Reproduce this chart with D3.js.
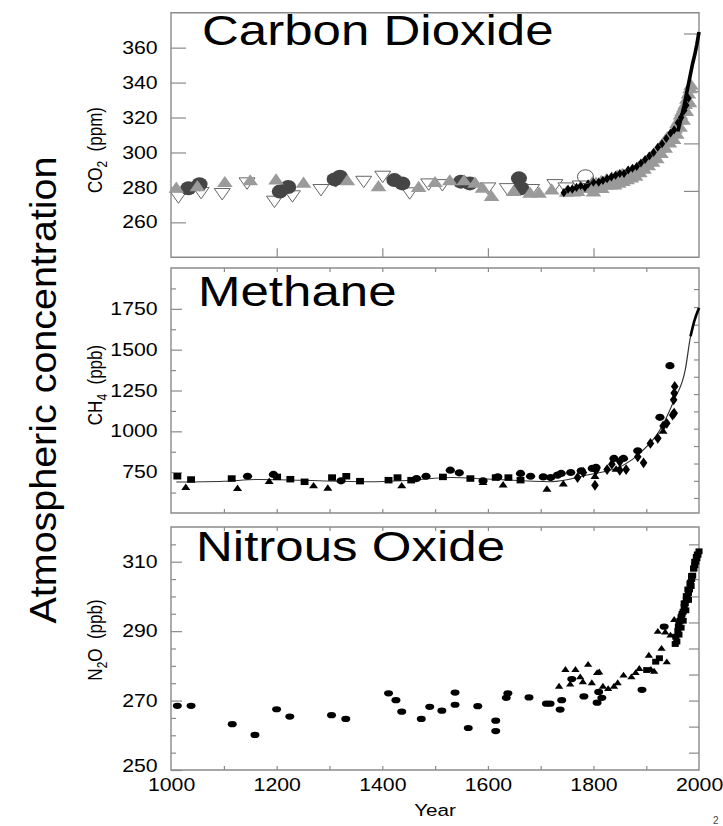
<!DOCTYPE html>
<html><head><meta charset="utf-8">
<script src="https://cdn.jsdelivr.net/npm/d3@7"></script>
<style>body{margin:0;background:#fff}svg{display:block}</style>
</head><body>
<svg id="c" width="723" height="826"></svg>
<script>
// ---------------- DATA ----------------
const yearLabelTicks = [1000, 1200, 1400, 1600, 1800, 2000];
const yearMinorTicks = [1100, 1200, 1300, 1400, 1500, 1600, 1700, 1800, 1900];
const yearMajorTicks = [1200, 1400, 1600, 1800];

const co2Ticks = [260, 280, 300, 320, 340, 360];
const co2RightTicks = [278, 305.2, 335.2, 368.1];
const ch4Ticks = [750, 1000, 1250, 1500, 1750];
const ch4MinorTicks = [625, 875, 1125, 1375, 1625, 1875];
const ch4RightTicks = [592, 697, 803, 910, 1016, 1122, 1228, 1334, 1440, 1547, 1653, 1761, 1871];
const n2oTicks = [250, 270, 290, 310];
const n2oMinorTicks = [255, 260, 265, 275, 280, 285, 295, 300, 305, 315];
const n2oRightTicks = [255, 262.5, 270, 277.5, 285, 292.5, 300, 305, 315];

// CO2 (ppm)
const co2DarkCircles = [[1033,279.5],[1054,281.8],[1206,277.6],[1222,280.2],[1310,284.6],[1320,286.1],
  [1423,284.2],[1438,282.3],[1549,283.3],[1566,282.3],[1659,285.2],[1663,279.5]];
const co2OpenCircles = [[1785,286.1]];
const co2OpenTriangles = [[1014,275.3],[1057,277.8],[1097,277.2],[1144,283.3],[1196,272.8],[1230,275.9],
  [1284,279.5],[1312,284.5],[1365,284.2],[1401,287.1],[1452,277.6],[1488,282.7],[1514,282.3],[1600,280.4],
  [1637,280.0],[1683,279.5],[1727,282.3],[1748,280.4],[1775,281.5]];
const co2GrayTriangles = [[1010,279.1],[1050,280.0],[1102,282.3],[1150,283.3],[1199,283.8],[1251,282.0],
  [1334,283.3],[1393,280.0],[1469,279.5],[1500,282.3],[1528,283.3],[1555,283.3],[1576,282.0],[1590,279.1],
  [1607,274.3],[1649,277.2],[1680,276.2],[1697,276.2],[1721,278.1],[1749,276.8],[1762,277.0],[1770,277.2],
  [1790,279],[1798,282.3],[1805,282],[1810,281],[1815,283],[1820,282],[1825,284],[1830,283],[1835,285],
  [1840,284],[1845,286],[1850,285],[1855,287],[1860,286],[1865,288],[1870,287],[1875,289],[1880,289],
  [1885,291],[1890,291],[1895,293],[1900,294],[1905,296],[1910,297],[1915,299],[1920,300],[1925,302],
  [1930,304],[1935,306],[1940,308],[1945,309],[1950,311],[1955,313],[1958,316],[1962,318],[1965,321],
  [1968,323],[1971,325],[1974,327],[1977,330],[1980,333],[1983,336],[1985,338],
  [1800,277],[1808,279],[1816,279],[1824,281],[1832,281],[1840,281],[1848,282],[1856,283],[1864,284],
  [1872,285],[1880,286],[1888,288],[1896,290],[1904,292],[1912,294],[1920,296],[1928,299],[1936,302],
  [1944,305],[1952,307],[1958,310],[1964,314],[1970,318],[1976,323],[1982,328]];
const co2BlackMarks = [[1744,277],[1752,279],[1760,279],[1768,280],[1776,281],[1784,280],[1790,282],
  [1800,283],[1810,283],[1818,284],[1826,285],[1834,286],[1842,287],[1850,288],[1858,288],[1866,290],
  [1874,291],[1882,292],[1890,294],[1898,296],[1906,298],[1914,300],[1922,303],[1930,305],[1938,308],
  [1946,311],[1953,313],[1960,317],[1966,320],[1972,324],[1976,327],[1980,331]];
const co2MaunaLoa = [[1960,312],[1964,317],[1968,322],[1972,327],[1976,333],[1980,339],[1984,345],
  [1988,351],[1992,356],[1996,362],[2000,369]];

// CH4 (ppb)
const ch4Squares = [[1012,725],[1038,705],[1115,711],[1201,721],[1226,707],[1253,691],[1305,717],
  [1332,725],[1358,695],[1412,701],[1429,717],[1455,701],[1515,721],[1567,711],[1615,717],[1639,717],[1662,701]];
const ch4Circles = [[1145,725],[1194,736],[1322,697],[1465,711],[1483,725],[1529,762],[1546,746],
  [1591,697],[1619,721],[1662,742],[1681,725],[1705,721],[1719,717],[1732,732],[1739,742],[1757,748],
  [1777,758],[1798,773],[1805,779],[1839,834],[1857,834],[1884,881],[1926,1086],[1945,1402]];
const ch4Triangles = [[1028,654],[1126,648],[1186,691],[1270,664],[1297,650],[1437,664],[1591,684],
  [1629,670],[1712,643],[1743,676],[1803,721],[1843,766],[1932,998]];
const ch4Diamonds = [[1770,717],[1781,748],[1805,762],[1803,670],[1826,766],[1835,799],[1850,814],
  [1862,766],[1850,762],[1884,844],[1895,807],[1908,926],[1922,957],[1932,1033],[1939,1049],[1950,1100],
  [1953,1111],[1952,1193],[1953,1234],[1954,1275]];
const ch4Curve = [[1010,690],[1100,695],[1167,705],[1250,700],[1374,692],[1450,700],[1532,717],
  [1600,708],[1719,692],[1788,732],[1857,793],[1891,875],[1926,1008],[1953,1193],[1974,1377],
  [1984,1582],[1991,1674],[2000,1756]];

// N2O (ppb)
const n2oCircles = [[1012,268.5],[1038,268.5],[1116,263.2],[1159,260.1],[1200,267.5],[1225,265.4],
  [1304,265.8],[1331,264.7],[1412,272.1],[1426,270.1],[1437,266.8],[1474,264.7],[1490,268.2],[1513,267.1],
  [1538,272.3],[1538,268.8],[1563,262.1],[1581,268.4],[1615,264.2],[1615,261.2],[1635,270.8],[1638,272.1],
  [1678,270.9],[1711,269.1],[1718,269.1],[1737,267.4],[1740,270.1],[1759,276.2],[1782,271.2],[1807,269.4],
  [1810,272.5],[1816,270.8],[1892,273.1],[1934,291.3]];
const n2oTriangles = [[1735,274],[1747,278.8],[1756,274.6],[1766,278.8],[1775,276.7],[1780,275.3],
  [1790,280.3],[1797,275],[1807,277.9],[1811,278.1],[1818,274],[1828,273.3],[1839,274],[1846,275],
  [1857,277.2],[1872,276.7],[1880,277.9],[1887,279.1],[1905,282.9],[1909,278.8],[1915,278.3],[1922,289.8],
  [1929,284.9],[1936,289.6],[1939,281],[1946,288.7],[1953,293.2]];
const n2oSquares = [[1901,278.8],[1918,281.2],[1925,282.2],[1955,286.3],[1956,288.4],[1958,287],
  [1960,290],[1961,291.3],[1962,292],[1964,293],[1966,294],[1967,294.2],[1968,295],[1970,295.6],
  [1972,297],[1972,298],[1974,298],[1976,299],[1976,300.1],[1978,300],[1979,302],[1980,301],[1982,302],
  [1983,303.7],[1984,304],[1986,305],[1986,305.9],[1988,306],[1990,308],[1990,308.1],[1992,309],
  [1992,310],[1994,310],[1995,311.4],[1996,311],[1997,312.1],[1998,312],[2000,313],
  [1962,289],[1966,291],[1970,293],[1975,296],[1980,299],[1985,303]];

// ---------------- DRAWING ----------------
const FONT = "'Liberation Sans', Arial, Helvetica, sans-serif";
const SX = 1.215;               // horizontal stretch of the original figure
const svg = d3.select('#c');
svg.append('rect').attr('width', 723).attr('height', 826).attr('fill', '#fff');
const root = svg.append('g').attr('transform', `scale(${SX},1)`);
const X0 = 171 / SX, X1 = 699 / SX;
const x = d3.scaleLinear().domain([1000, 2000]).range([X0, X1]);
const GRID = '#8a8a8a';
const TICKFS = 17.5;
const fmt = d3.format('d');

function styleAxis(ga, fs) {
  ga.select('.domain').remove();
  ga.selectAll('line').attr('stroke', GRID).attr('stroke-width', 1.2).attr('vector-effect', 'non-scaling-stroke');
  ga.selectAll('text').attr('font-family', FONT).attr('font-size', fs).attr('fill', '#000');
}

function makePanel(p) {
  const y = d3.scaleLinear().domain(p.domain).range([p.bottom, p.top]);
  const g = root.append('g');
  const ga = g.append('g').attr('transform', `translate(${X0},0)`)
    .call(d3.axisLeft(y).tickValues(p.ticks).tickFormat(fmt).tickSizeInner(-p.majorLen / SX).tickSizeOuter(0).tickPadding(11));
  styleAxis(ga, TICKFS);
  ga.selectAll('text').filter(d => d === p.domain[0]).attr('dy', '0.1em');
  if (p.minor) styleAxis(g.append('g').attr('transform', `translate(${X0},0)`)
    .call(d3.axisLeft(y).tickValues(p.minor).tickSizeInner(-p.minorLen / SX).tickSizeOuter(0).tickFormat('')), 1);
  styleAxis(g.append('g').attr('transform', `translate(${X1},0)`)
    .call(d3.axisRight(y).tickValues(p.right).tickSizeInner(-p.rightLen / SX).tickSizeOuter(0).tickFormat('')), 1);
  if (p.topTicks) styleAxis(g.append('g').attr('transform', `translate(0,${p.top})`)
    .call(d3.axisTop(x).tickValues(p.topTicks).tickSizeInner(-4).tickSizeOuter(0).tickFormat('')), 1);
  if (p.botTicks) styleAxis(g.append('g').attr('transform', `translate(0,${p.bottom})`)
    .call(d3.axisBottom(x).tickValues(p.botTicks).tickSizeInner(-p.botLen).tickSizeOuter(0).tickFormat('')), 1);
  g.append('rect').attr('x', X0).attr('y', p.top).attr('width', X1 - X0).attr('height', p.bottom - p.top)
    .attr('fill', 'none').attr('stroke', GRID).attr('stroke-width', 1.4).attr('vector-effect', 'non-scaling-stroke');
  g.append('text').attr('x', p.titleX / SX).attr('y', p.titleY).attr('font-family', FONT)
    .attr('font-size', 42).attr('fill', '#000').text(p.title);
  return {g, y};
}

function sym(g, data, y, type, size, fill, stroke, rot) {
  g.append('g').selectAll('path').data(data).join('path')
    .attr('d', d3.symbol().type(type).size(size))
    .attr('transform', d => `translate(${x(d[0])},${y(d[1])})${rot ? ' rotate(' + rot + ')' : ''}`)
    .attr('fill', fill).attr('stroke', stroke || 'none').attr('stroke-width', stroke ? 1 : 0)
    .attr('vector-effect', 'non-scaling-stroke');
}
function ell(g, data, y, rx, ry, fill, stroke) {
  g.append('g').selectAll('ellipse').data(data).join('ellipse')
    .attr('cx', d => x(d[0])).attr('cy', d => y(d[1])).attr('rx', rx).attr('ry', ry)
    .attr('fill', fill).attr('stroke', stroke || 'none').attr('vector-effect', 'non-scaling-stroke');
}

// Panel 1: CO2
const P1 = makePanel({top: 12.7, bottom: 257.3, domain: [240, 380], ticks: co2Ticks, majorLen: 15,
  right: co2RightTicks, rightLen: 15, botTicks: yearMajorTicks, botLen: 9,
  title: 'Carbon Dioxide', titleX: 202, titleY: 45});
{
  const {g, y} = P1;
  sym(g, co2OpenTriangles, y, d3.symbolTriangle, 75, '#fff', '#666', 180);
  ell(g, co2DarkCircles, y, 6.6, 7, '#454545');
  sym(g, co2GrayTriangles, y, d3.symbolTriangle, 72, '#9a9a9a');
  sym(g, co2BlackMarks, y, d3.symbolDiamond, 24, '#000');
  g.append('path').datum(co2MaunaLoa)
    .attr('d', d3.line().x(d => x(d[0])).y(d => y(d[1])))
    .attr('fill', 'none').attr('stroke', '#000').attr('stroke-width', 3);
  ell(g, co2OpenCircles, y, 6.6, 7, 'none', '#555');
}

// Panel 2: CH4
const P2 = makePanel({top: 268, bottom: 513, domain: [500, 2000], ticks: ch4Ticks, majorLen: 11,
  minor: ch4MinorTicks, minorLen: 5, right: ch4RightTicks, rightLen: 5,
  topTicks: yearMinorTicks, botTicks: yearMinorTicks, botLen: 4,
  title: 'Methane', titleX: 198, titleY: 306});
{
  const {g, y} = P2;
  g.append('path').datum(ch4Curve)
    .attr('d', d3.line().curve(d3.curveMonotoneX).x(d => x(d[0])).y(d => y(d[1])))
    .attr('fill', 'none').attr('stroke', '#333').attr('stroke-width', 1);
  g.append('path').datum(ch4Curve.filter(d => d[0] >= 1984))
    .attr('d', d3.line().curve(d3.curveMonotoneX).x(d => x(d[0])).y(d => y(d[1])))
    .attr('fill', 'none').attr('stroke', '#000').attr('stroke-width', 2.2);
  sym(g, ch4Squares, y, d3.symbolSquare, 42, '#000');
  ell(g, ch4Circles, y, 3.8, 3.6, '#000');
  sym(g, ch4Triangles, y, d3.symbolTriangle, 24, '#000');
  sym(g, ch4Diamonds, y, d3.symbolDiamond, 34, '#000');
}

// Panel 3: N2O
const P3 = makePanel({top: 527, bottom: 770, domain: [250, 320], ticks: n2oTicks, majorLen: 11,
  minor: n2oMinorTicks, minorLen: 5, right: n2oRightTicks, rightLen: 10,
  topTicks: yearMinorTicks, botTicks: yearMinorTicks, botLen: 4,
  title: 'Nitrous Oxide', titleX: 196, titleY: 561});
{
  const {g, y} = P3;
  ell(g, n2oCircles, y, 3.7, 3.1, '#000');
  sym(g, n2oTriangles, y, d3.symbolTriangle, 20, '#000');
  sym(g, n2oSquares, y, d3.symbolSquare, 34, '#000');
  const ga = root.append('g').attr('transform', `translate(0,770)`)
    .call(d3.axisBottom(x).tickValues(yearLabelTicks).tickFormat(fmt).tickSize(0).tickPadding(9));
  styleAxis(ga, TICKFS);
}

root.append('text').attr('x', x(1500)).attr('y', 816).attr('text-anchor', 'middle')
  .attr('font-family', FONT).attr('font-size', 17).text('Year');

function yTitle(cx, cy, main, sub, rest) {
  const t = root.append('text').attr('transform', `translate(${cx / SX},${cy}) rotate(-90)`)
    .attr('text-anchor', 'middle').attr('font-family', FONT).attr('font-size', 17);
  t.append('tspan').text(main);
  t.append('tspan').attr('font-size', 12).attr('dy', 4).text(sub);
  t.append('tspan').attr('dy', -4).text(rest);
}
yTitle(102, 150, 'CO', '2', '\u00a0\u00a0(ppm)');
yTitle(102, 385, 'CH', '4', '\u00a0\u00a0(ppb)');
yTitle(102, 640, 'N', '2', 'O\u00a0\u00a0(ppb)');

svg.append('text').attr('transform', 'translate(56,390) rotate(-90)').attr('text-anchor', 'middle')
  .attr('font-family', FONT).attr('font-size', 36).attr('textLength', 467).attr('lengthAdjust', 'spacingAndGlyphs')
  .text('Atmospheric concentration');

svg.append('text').attr('x', 713).attr('y', 824).attr('font-family', FONT).attr('font-size', 10)
  .attr('fill', '#444').text('2');
</script>
</body></html>
